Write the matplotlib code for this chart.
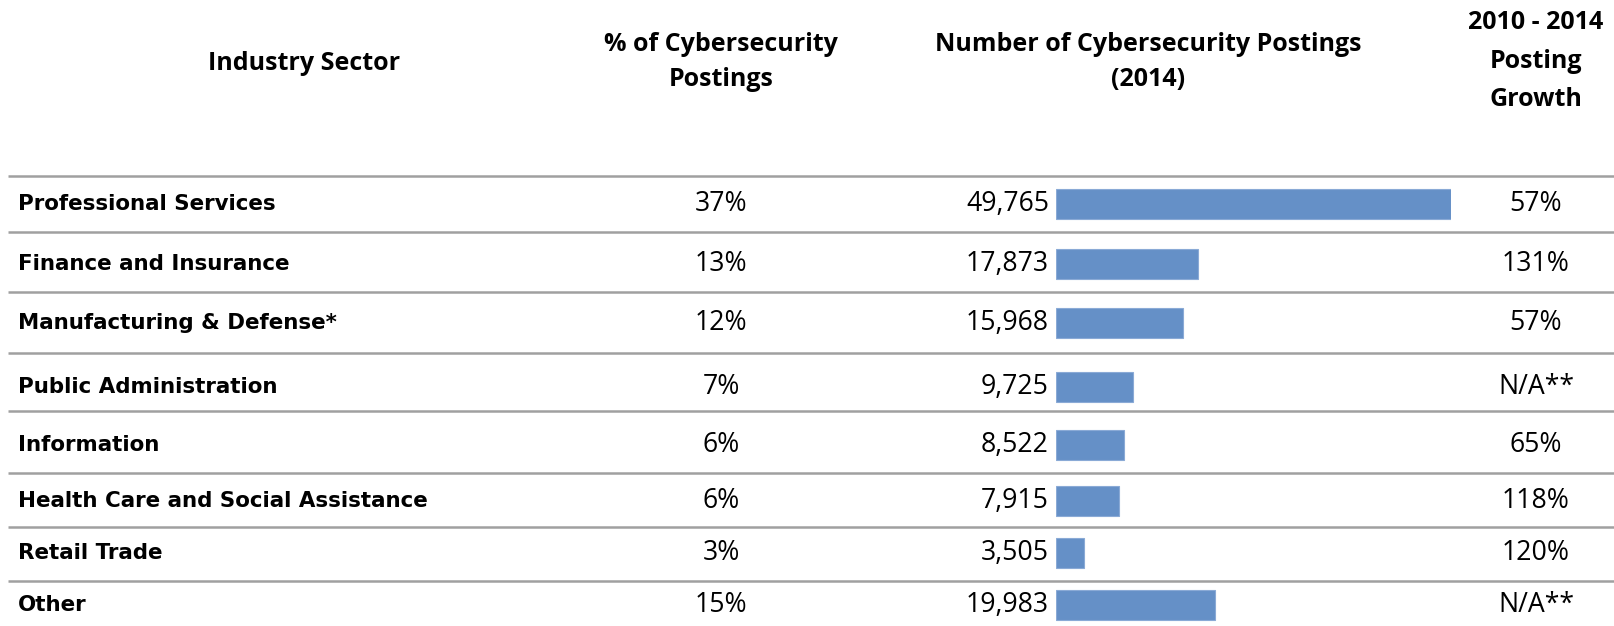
import matplotlib
matplotlib.use('Agg')
import matplotlib.pyplot as plt

# table data
sectors = ['Professional Services', 'Finance and Insurance', 'Manufacturing & Defense*',
           'Public Administration', 'Information', 'Health Care and Social Assistance',
           'Retail Trade', 'Other']
pct_labels = ['37%', '13%', '12%', '7%', '6%', '6%', '3%', '15%']
postings = [49765, 17873, 15968, 9725, 8522, 7915, 3505, 19983]
growth_labels = ['57%', '131%', '57%', 'N/A**', '65%', '118%', '120%', 'N/A**']

W, H = 1614, 626
ROW_Y = [204, 264, 323, 387, 445, 501, 553, 605]   # row centres, px
LINE_Y = [176, 231.5, 291.5, 352.5, 411, 472.5, 527, 580.5]
BAR_X0, BAR_X1 = 1056, 1451
BAR_COLOR = '#6590c7'
LINE_COLOR = '#a0a0a0'

LABEL_FONT = 'DejaVu Sans'
BODY_FONT = 'Open Sans'

fig = plt.figure(figsize=(W / 100, H / 100), dpi=100)
ax = fig.add_axes([0, 0, 1, 1])
ax.set_xlim(0, W)
ax.set_ylim(H, 0)
ax.axis('off')

# headers
hdr = dict(family=BODY_FONT, weight='bold', fontsize=18, ha='center', va='center')
ax.text(304, 63, 'Industry Sector', **hdr)
ax.text(721, 62, '% of Cybersecurity\nPostings', linespacing=1.5, **hdr)
ax.text(1148, 62, 'Number of Cybersecurity Postings\n(2014)', linespacing=1.5, **hdr)
ax.text(1536, 61, '2010 - 2014\nPosting\nGrowth', linespacing=1.72, **hdr)

# separators
for y in LINE_Y:
    ax.plot([8, W], [y, y], color=LINE_COLOR, lw=1.8, solid_capstyle='butt')

for i, y in enumerate(ROW_Y):
    ax.text(18, y, sectors[i], family=LABEL_FONT, weight='bold', fontsize=15.4,
            ha='left', va='center')
    ax.text(721, y, pct_labels[i], family=BODY_FONT, fontsize=19.2, ha='center', va='center')
    ax.text(1049, y, f'{postings[i]:,}', family=BODY_FONT, fontsize=19.2,
            ha='right', va='center')
    ax.text(1536, y, growth_labels[i], family=BODY_FONT, fontsize=19.2,
            ha='center', va='center')

# bars on their own value axis
bx = fig.add_axes([BAR_X0 / W, 0, (BAR_X1 - BAR_X0) / W, 1])
bx.set_xlim(0, max(postings))
bx.set_ylim(H, 0)
bx.axis('off')
bx.barh(ROW_Y, postings, height=30, color=BAR_COLOR, edgecolor='#8aaad6', lw=0.8)

fig.savefig('out.png', dpi=100)
